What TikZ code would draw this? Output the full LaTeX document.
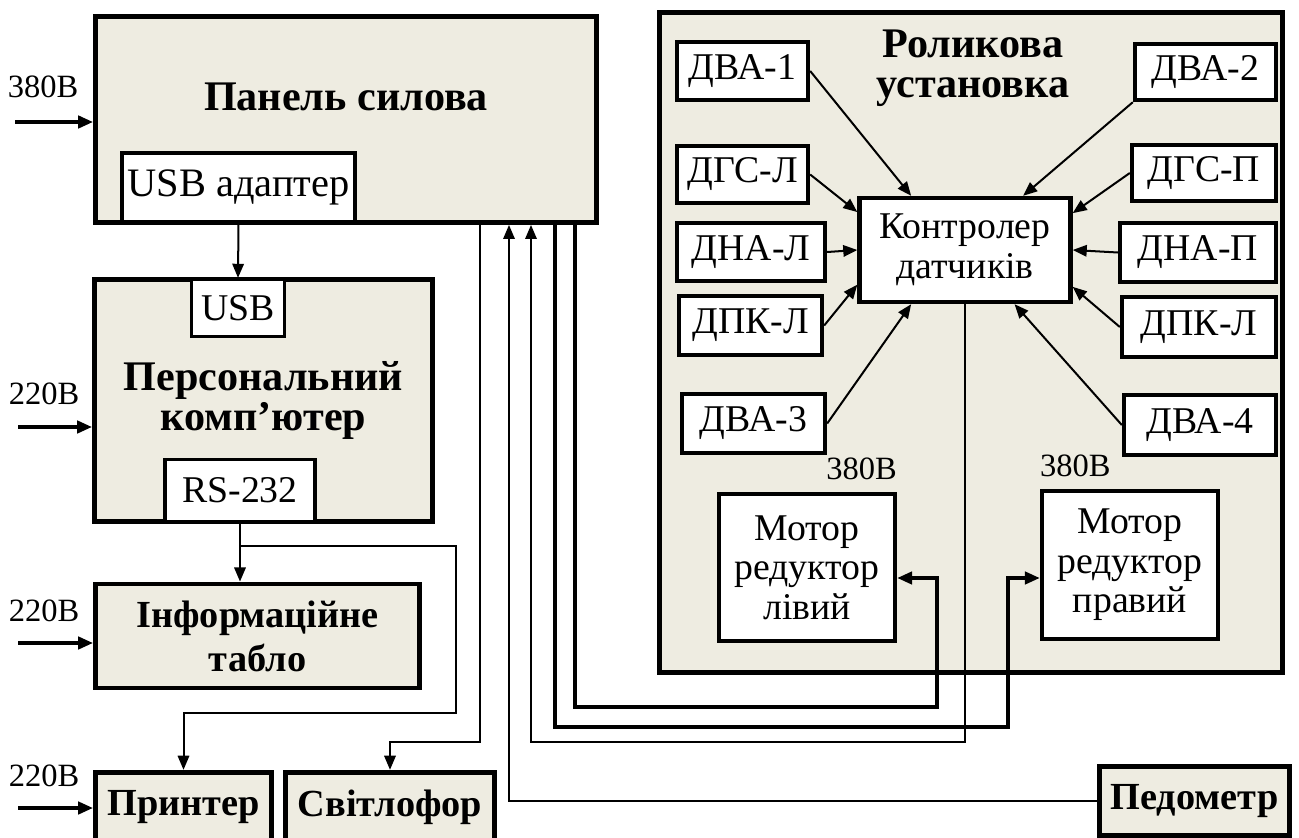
\documentclass[tikz,border=0pt]{standalone}
\usepackage{fontspec}
\setmainfont{Liberation Serif}
\usetikzlibrary{arrows.meta, positioning, calc}
\definecolor{PanelBeige}{RGB}{238, 236, 225}
\definecolor{LineBlack}{RGB}{0, 0, 0}

\begin{document}
\begin{tikzpicture}[
    x=0.02cm, y=-0.02cm,
    unit/.style={
        draw=LineBlack,            % heavy frame of a device block
        fill=PanelBeige,           % light beige background
        line width=2.8pt,
        inner sep=0pt,
        align=center,
        font=\fontsize{21.8}{25}\selectfont\bfseries
    },
    sensor/.style={
        draw=LineBlack,
        fill=white,
        line width=2.5pt,
        inner sep=0pt,
        align=center,
        font=\fontsize{21.5}{22.5}\selectfont
    },
    port/.style={
        draw=LineBlack,
        fill=white,
        line width=1.9pt,
        inner sep=0pt,
        font=\fontsize{21.5}{23}\selectfont
    },
    title_text/.style={
        align=center,
        inner sep=0pt,
        font=\fontsize{24}{23}\selectfont\bfseries
    },
    volt_text/.style={
        inner sep=0pt,
        font=\fontsize{18.5}{20}\selectfont
    },
    wire/.style={
        -{Triangle[length=8pt, width=6.5pt]},
        line width=1.14pt,
        draw=LineBlack
    },
    power/.style={
        -{Triangle[length=8.5pt, width=7pt]},
        line width=2pt,
        draw=LineBlack
    },
    motor_wire/.style={
        -{Triangle[length=8.5pt, width=7pt]},
        line width=2pt,
        draw=LineBlack
    }
]
    \useasboundingbox (0,0) rectangle (1299,838);

    % --- 1. Left column ---
    \node[unit, minimum width=10.02cm, minimum height=4.12cm] (panel) at (346,119.5) {};
    \node[title_text] (paneltitle) at (346,97) {Панель силова};
    \node[port, line width=2.3pt, font=\fontsize{23}{24}\selectfont, minimum width=4.66cm, minimum height=1.38cm] (usbad) at (238.5,187.5) {USB адаптер};

    \node[unit, font=\fontsize{24}{23}\selectfont\bfseries, minimum width=6.76cm, minimum height=4.84cm] (pc) at (263.5,400.5) {Персональний\\комп’ютер};
    \node[port, minimum width=1.86cm, minimum height=1.14cm] (usb) at (238,308) {USB};
    \node[port, minimum width=3.0cm, minimum height=1.24cm] (rs) at (240,490.5) {RS-232};

    \node[unit, minimum width=6.48cm, minimum height=2.08cm] (info) at (257.5,636) {Інформаційне\\табло};
    \node[unit, minimum width=3.52cm, minimum height=1.41cm] (prn) at (183.5,807.5) {Принтер};
    \node[unit, minimum width=4.18cm, minimum height=1.41cm] (svit) at (390,807.5) {Світлофор};
    \node[unit, minimum width=3.8cm, minimum height=1.38cm] (ped) at (1194.5,801) {Педометр};

    % --- 2. Supply inputs ---
    \node[volt_text] (v1) at (43,87) {380В};
    \node[volt_text] (v2) at (44,394) {220В};
    \node[volt_text] (v3) at (44,611) {220В};
    \node[volt_text] (v4) at (44,776) {220В};

    \coordinate (in1) at (15,122);
    \coordinate (in2) at (18,427);
    \coordinate (in3) at (18,643);
    \coordinate (in4) at (18,808);

    \draw[power] (in1) -- (in1 -| panel.west);
    \draw[power] (in2) -- (in2 -| pc.west);
    \draw[power] (in3) -- (in3 -| info.west);
    \draw[power] (in4) -- (in4 -| prn.west);

    % --- 3. Roller stand ---
    \node[unit, minimum width=12.46cm, minimum height=13.2cm] (stand) at (971,342.5) {};
    \node[title_text] (standtitle) at (973,68) {Роликова\\установка};

    \node[sensor, minimum width=4.22cm, minimum height=2.08cm] (ctrl) at (965,250) {Контролер\\датчиків};

    \node[sensor, minimum width=2.62cm, minimum height=1.16cm] (dva1) at (742.5,71) {ДВА-1};
    \node[sensor, minimum width=2.62cm, minimum height=1.14cm] (dgsl) at (742.5,174.5) {ДГС-Л};
    \node[sensor, minimum width=2.96cm, minimum height=1.16cm] (dnal) at (751,252) {ДНА-Л};
    \node[sensor, minimum width=2.86cm, minimum height=1.18cm] (dpkl) at (750.5,325.5) {ДПК-Л};
    \node[sensor, minimum width=2.86cm, minimum height=1.18cm] (dva3) at (753.5,423.5) {ДВА-3};

    \node[sensor, minimum width=2.82cm, minimum height=1.12cm] (dva2) at (1205.5,72) {ДВА-2};
    \node[sensor, minimum width=2.88cm, minimum height=1.12cm] (dgsp) at (1204,173) {ДГС-П};
    \node[sensor, minimum width=3.12cm, minimum height=1.18cm] (dnap) at (1198,252.5) {ДНА-П};
    \node[sensor, minimum width=3.08cm, minimum height=1.2cm] (dpkr) at (1199,327) {ДПК-Л};
    \node[sensor, minimum width=3.04cm, minimum height=1.2cm] (dva4) at (1200,425) {ДВА-4};

    \node[sensor, minimum width=3.52cm, minimum height=2.94cm] (mleft) at (807,567.5) {Мотор\\редуктор\\лівий};
    \node[sensor, minimum width=3.52cm, minimum height=2.96cm] (mright) at (1130,565) {Мотор\\редуктор\\правий};
    \node[volt_text, anchor=south east] (vml) at ([yshift=6.5pt]mleft.north east) {380В};
    \node[volt_text, anchor=south west] (vmr) at ([yshift=6.5pt]mright.north west) {380В};

    % sensors -> controller
    \draw[wire] (dva1.east) -- ($(ctrl.north west)!0.25!(ctrl.north east)$);
    \draw[wire] (dgsl.east) -- ($(ctrl.north west)!0.15!(ctrl.south west)$);
    \draw[wire] (dnal.east) -- (ctrl.west);
    \draw[wire] (dpkl.east) -- ($(ctrl.north west)!0.82!(ctrl.south west)$);
    \draw[wire] (dva3.east) -- ($(ctrl.south west)!0.25!(ctrl.south east)$);
    \draw[wire] (dva2.south west) -- ($(ctrl.north west)!0.77!(ctrl.north east)$);
    \draw[wire] (dgsp.west) -- ($(ctrl.north east)!0.16!(ctrl.south east)$);
    \draw[wire] (dnap.west) -- (ctrl.east);
    \draw[wire] (dpkr.west) -- ($(ctrl.north east)!0.84!(ctrl.south east)$);
    \draw[wire] (dva4.west) -- ($(ctrl.south west)!0.73!(ctrl.south east)$);

    % --- 4. Links between blocks ---
    \coordinate (bus1) at (480,742);
    \coordinate (bus2) at (509,800);
    \coordinate (bus3) at (531,742);
    \coordinate (bus4) at (555,727);
    \coordinate (bus5) at (575,707);
    \coordinate (mlj) at (937,578);
    \coordinate (mrj) at (1008,578);
    \coordinate (rsj) at (242,546);
    \coordinate (prnj) at (456,713);

    \draw[wire] (usbad.south) -- (usb.north);
    \draw[wire] (rs.south) -- (info.north -| rs.south);
    \draw[wire] (rs.south |- rsj) -| (prnj) -| (prn.north);

    \draw[wire] (panel.south -| bus1) -- (bus1) -| (svit.north);
    \draw[wire] (ped.west) -- (ped.west -| bus2) -- (panel.south -| bus2);
    \draw[wire] (ctrl.south) |- (bus3) -- (panel.south -| bus3);

    \draw[motor_wire] (panel.south -| bus4) -- (bus4) -| (mrj) -- (mright.west |- mrj);
    \draw[motor_wire] (panel.south -| bus5) -- (bus5) -| (mlj) -- (mleft.east |- mlj);

\end{tikzpicture}
\end{document}
